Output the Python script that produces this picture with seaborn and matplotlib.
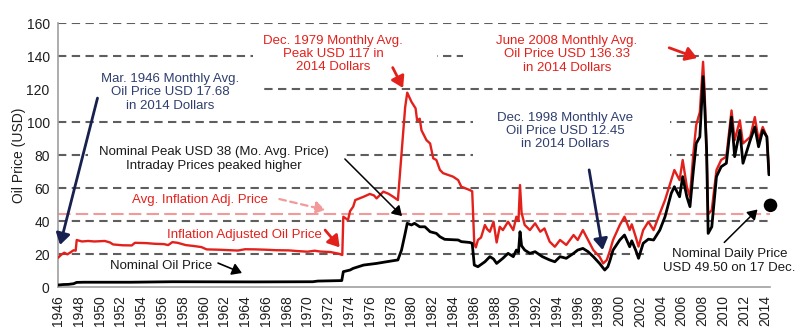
import matplotlib
matplotlib.use("Agg")
import matplotlib.pyplot as plt
from matplotlib.patches import Rectangle
import pandas as pd
import seaborn as sns

# ---------------- data ----------------
real_years = [1946.0, 1946.3, 1946.6, 1946.9, 1947.2, 1947.5, 1947.7, 1947.8, 1948.3, 1948.9,
              1949.5, 1950.5, 1951.0, 1951.3, 1952.2, 1953.1, 1953.4, 1954.5, 1955.3, 1956.2,
              1956.6, 1957.0, 1957.5, 1958.3, 1959.0, 1959.8, 1960.3, 1961.5, 1962.5, 1963.3,
              1964.0, 1965.0, 1966.0, 1967.0, 1968.2, 1969.0, 1970.0, 1970.7, 1971.2, 1972.2,
              1973.0, 1973.35, 1973.45, 1973.9, 1974.1, 1974.4, 1974.6, 1975.0, 1975.4, 1976.0,
              1976.4, 1976.65, 1977.3, 1977.8, 1978.25, 1978.7, 1979.05, 1979.4, 1979.6, 1980.0,
              1980.4, 1980.55, 1980.8, 1980.97, 1981.45, 1981.8, 1982.1, 1982.4, 1982.74, 1983.05,
              1984.0, 1984.5, 1984.8, 1985.6, 1985.85, 1986.05, 1986.2, 1986.4, 1986.7, 1987.07,
              1987.3, 1987.55, 1987.9, 1988.2, 1988.5, 1988.8, 1989.3, 1989.8, 1990.1, 1990.3,
              1990.45, 1990.6, 1990.9, 1991.4, 1991.9, 1992.4, 1992.8, 1993.3, 1993.8, 1994.3,
              1994.9, 1995.6, 1996.0, 1996.5, 1997.0, 1997.5, 1998.1, 1998.45, 1998.8, 1999.1,
              1999.4, 2000.05, 2000.5, 2001.0, 2001.2, 2001.6, 2001.85, 2002.3, 2002.8, 2003.3,
              2003.9, 2004.4, 2005.0, 2005.3, 2005.8, 2006.1, 2006.5, 2006.8, 2007.1, 2007.4,
              2007.75, 2008.06, 2008.2, 2008.4, 2008.55, 2008.9, 2009.35, 2009.8, 2010.3, 2010.8,
              2011.1, 2011.6, 2011.9, 2012.6, 2013.04, 2013.4, 2013.8, 2014.2, 2014.4]
real_price = [17.7, 19.5, 20.8, 19.8, 21.0, 22.3, 22.0, 28.5, 27.6, 27.9,
              27.6, 27.9, 27.0, 25.8, 25.3, 25.2, 26.8, 26.6, 26.2, 26.0,
              25.4, 27.2, 26.8, 25.4, 24.9, 24.2, 22.8, 22.6, 22.3, 22.1,
              22.9, 22.8, 22.6, 22.3, 22.2, 21.8, 21.4, 22.0, 21.5, 21.2,
              20.2, 19.4, 42.6, 40.6, 46.0, 48.7, 52.7, 53.7, 54.7, 56.4,
              55.5, 53.7, 57.8, 56.5, 54.7, 52.7, 81.0, 109.0, 117.8, 112.3,
              108.3, 101.0, 102.0, 95.0, 89.0, 87.0, 78.0, 77.0, 71.0, 69.0,
              66.9, 64.8, 60.8, 58.8, 58.0, 26.0, 24.0, 28.5, 30.0, 37.6,
              35.0, 33.5, 39.6, 27.0, 36.5, 34.5, 39.6, 34.5, 42.6, 40.0,
              61.8, 45.0, 37.6, 34.5, 38.6, 33.5, 35.5, 27.5, 24.4, 28.5,
              25.5, 31.5, 28.5, 34.5, 28.5, 22.4, 18.4, 14.3, 16.4, 22.0,
              28.5, 37.6, 42.6, 34.5, 38.0, 30.0, 24.5, 34.5, 39.6, 34.5,
              44.6, 52.7, 64.8, 70.9, 64.8, 77.0, 60.8, 54.7, 79.0, 98.2,
              106.0, 136.5, 120.0, 83.0, 44.0, 46.7, 70.9, 77.0, 79.0, 107.0,
              89.0, 101.0, 87.0, 91.0, 103.0, 89.0, 97.0, 91.0, 69.0]

nom_years = [1946.0, 1946.5, 1947.0, 1947.5, 1947.8, 1948.5, 1953.0, 1957.0, 1965.0, 1970.5,
             1971.0, 1973.3, 1973.45, 1974.1, 1974.4, 1975.4, 1976.65, 1977.6, 1978.7, 1979.05,
             1979.4, 1979.6, 1980.0, 1980.3, 1980.8, 1981.3, 1981.8, 1982.4, 1982.74, 1983.2,
             1984.5, 1984.8, 1985.6, 1985.85, 1986.05, 1986.4, 1987.07, 1987.55, 1987.9, 1988.2,
             1988.8, 1989.3, 1989.8, 1990.1, 1990.3, 1990.45, 1990.6, 1990.9, 1991.4, 1991.9,
             1992.6, 1993.3, 1993.8, 1994.3, 1994.9, 1995.6, 1996.0, 1996.5, 1997.0, 1997.5,
             1998.1, 1998.6, 1998.9, 1999.1, 1999.4, 2000.05, 2000.5, 2001.0, 2001.2, 2001.6,
             2001.85, 2002.3, 2002.8, 2003.3, 2003.9, 2004.4, 2005.0, 2005.3, 2005.8, 2006.1,
             2006.5, 2006.8, 2007.1, 2007.4, 2007.75, 2008.06, 2008.2, 2008.4, 2008.55, 2008.9,
             2009.35, 2009.8, 2010.3, 2010.8, 2011.1, 2011.6, 2011.9, 2012.6, 2013.04, 2013.4,
             2013.8, 2014.2, 2014.4]
nom_price = [1.2, 1.5, 1.6, 2.0, 2.8, 2.9, 2.9, 3.2, 3.1, 3.2,
             3.6, 3.9, 9.3, 10.3, 11.3, 13.3, 14.3, 15.3, 16.4, 22.4,
             32.5, 38.6, 37.6, 38.6, 36.5, 36.5, 33.5, 32.5, 30.5, 28.9,
             28.5, 27.5, 27.0, 26.5, 13.3, 12.3, 15.3, 18.4, 17.0, 14.3,
             17.4, 20.4, 18.4, 22.4, 21.0, 33.5, 25.0, 22.4, 20.4, 21.4,
             18.4, 16.4, 15.3, 18.4, 17.4, 20.4, 22.4, 23.4, 21.4, 18.4,
             14.3, 10.3, 12.3, 16.0, 22.4, 28.5, 31.5, 24.4, 28.0, 22.0,
             17.4, 26.5, 29.0, 28.5, 34.5, 42.6, 56.8, 60.8, 54.7, 66.9,
             54.7, 48.7, 68.9, 87.0, 91.0, 127.5, 112.0, 83.0, 32.5, 36.5,
             66.9, 72.9, 75.0, 103.0, 79.0, 95.0, 75.0, 89.0, 97.0, 85.0,
             95.0, 91.0, 68.0]

avg_real_price = 44.0
daily_year = [2014.55]
daily_price = [49.5]

year_ticks = list(range(1946, 2015, 2))
price_ticks = list(range(0, 161, 20))

# ---------------- style ----------------
sns.set_theme(style="white")
plt.rcParams['font.family'] = ['Liberation Sans', 'DejaVu Sans']

RED = "#e3211c"
NAVY_TXT = "#2f3f6e"
NAVY = "#17204e"
PINK = "#f29a9a"
GRID = "#5e5e5e"
SPINE = "#a0a0a0"

fig = plt.figure(figsize=(8, 3.36), dpi=100)
ax = fig.add_axes([0.0725, 0.1458, 0.89, 0.7857])

real_df = pd.DataFrame({"year": real_years, "price": real_price})
nom_df = pd.DataFrame({"year": nom_years, "price": nom_price})

sns.lineplot(data=real_df, x="year", y="price", ax=ax, color=RED, lw=1.7,
             sort=False, estimator=None, zorder=3)
sns.lineplot(data=nom_df, x="year", y="price", ax=ax, color="black", lw=2.0,
             sort=False, estimator=None, zorder=4)
sns.scatterplot(x=daily_year, y=daily_price, ax=ax, s=95, color="black",
                edgecolor="none", zorder=5, clip_on=False)

ax.axhline(avg_real_price, color=PINK, lw=1.5, ls=(0, (6, 2.5)), zorder=1.5)

ax.set_xlim(1946, 2014.5)
ax.set_ylim(0, 160)
ax.set_xticks(year_ticks)
ax.set_xticklabels([str(y) for y in year_ticks], rotation=90)
ax.set_yticks(price_ticks)

ax.yaxis.grid(True, color=GRID, lw=1.5, ls=(0, (4, 2.6)))
ax.xaxis.grid(False)
ax.set_axisbelow(True)
ax.get_ygridlines()[0].set_visible(False)

sns.despine(ax=ax)
for s in ("left", "bottom"):
    ax.spines[s].set_color(SPINE)
    ax.spines[s].set_linewidth(1.2)
ax.tick_params(axis="both", direction="out", length=4, width=1.0, color=SPINE,
               labelsize=10, labelcolor="#1e1e1e", pad=2)
ax.set_xlabel("")
ax.set_ylabel("Oil Price (USD)", fontsize=10, color="#1e1e1e", labelpad=0)

# white masks behind annotation texts (break the gridlines)
masks = [(1946.0, 103.6, 19.7, 32.8),
         (1964.75, 125.5, 17.7, 30.3),
         (1984.95, 125.5, 20.2, 30.3),
         (1985.9, 78.2, 19.0, 35.1),
         (1948.9, 69.7, 24.7, 18.2),
         (2002.9, 4.2, 11.6, 21.3)]
for x0, y0, w, h in masks:
    ax.add_patch(Rectangle((x0, y0), w, h, facecolor="white", edgecolor="none", zorder=1))

FS = 9.5
def note(x, y, s, color):
    ax.text(x, y, s, ha="center", va="center", multialignment="center",
            fontsize=FS, color=color, zorder=6, linespacing=1.15)

def arrow(x0, y0, x1, y1, color, lw=1.8, ls="-", head=0.35):
    ax.annotate("", xy=(x1, y1), xytext=(x0, y0),
                arrowprops=dict(arrowstyle=f"-|>,head_length={head*1.6},head_width={head}",
                                color=color, lw=lw, ls=ls, shrinkA=0, shrinkB=0),
                zorder=6)

note(1956.8, 118, "Mar. 1946 Monthly Avg.\nOil Price USD 17.68\nin 2014 Dollars", NAVY_TXT)
arrow(1949.8, 114.5, 1946.2, 25.5, NAVY, lw=2.0)

note(1961.0, 77.5, "Nominal Peak USD 38 (Mo. Avg. Price)\nIntraday Prices peaked higher", "#1a1a1a")
arrow(1973.6, 77.6, 1979.1, 43.0, "black", lw=1.1, head=0.3)

note(1959.7, 52.7, "Avg. Inflation Adj. Price", RED)
arrow(1967.3, 53.3, 1971.7, 46.7, PINK, lw=1.6, ls=(0, (3, 2)), head=0.3)

note(1963.9, 31.5, "Inflation Adjusted Oil Price", RED)
arrow(1971.7, 34.5, 1973.1, 24.0, RED, lw=2.0)

note(1955.9, 12.7, "Nominal Oil Price", "#1a1a1a")
arrow(1961.4, 14.5, 1963.7, 8.5, "black", lw=1.2, head=0.3)

note(1972.45, 141.2, "Dec. 1979 Monthly Avg.\nPeak USD 117 in\n2014 Dollars", RED)
arrow(1978.2, 133.0, 1979.2, 120.6, RED, lw=2.0)

note(1994.96, 141.0, "June 2008 Monthly Avg.\nOil Price USD 136.33\nin 2014 Dollars", RED)
arrow(2004.8, 145.0, 2007.5, 138.8, RED, lw=2.0)

note(1994.8, 94.5, "Dec. 1998 Monthly Ave\nOil Price USD 12.45\nin 2014 Dollars", NAVY_TXT)
arrow(1997.1, 71.0, 1998.4, 22.4, NAVY, lw=2.0)

note(2010.6, 15.8, "Nominal Daily Price\nUSD 49.50 on 17 Dec.", "#1a1a1a")
arrow(2010.1, 27.0, 2013.3, 47.0, "black", lw=1.1, head=0.3)

fig.savefig("out.png", dpi=100)
